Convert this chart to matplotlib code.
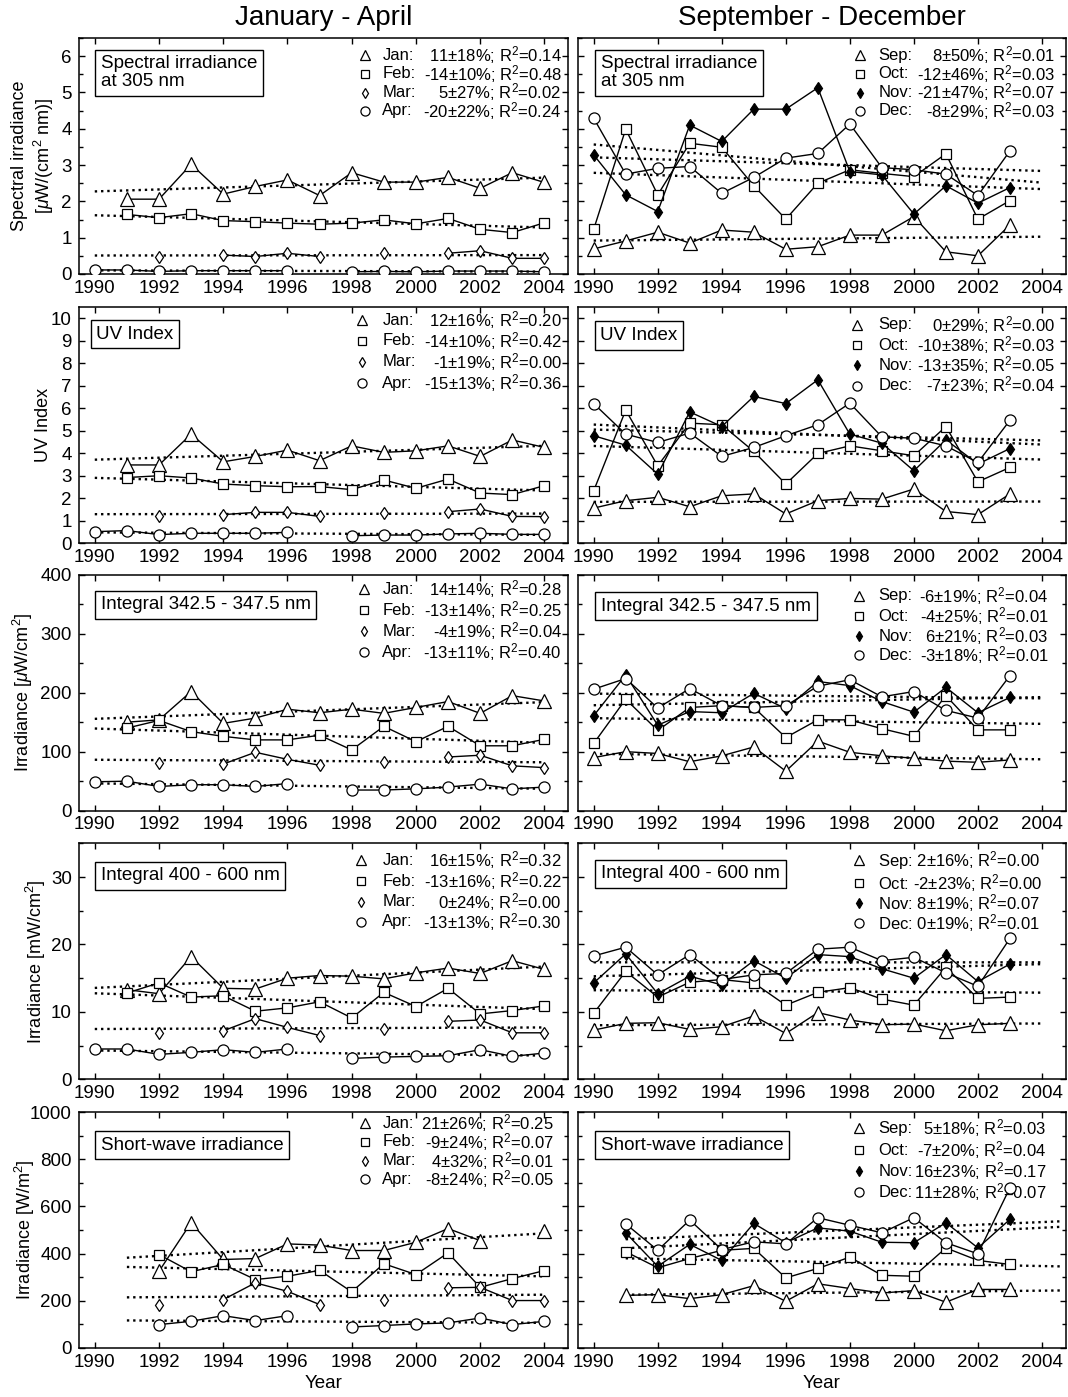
import numpy as np
import matplotlib
matplotlib.use("Agg")
import matplotlib.pyplot as plt
from matplotlib.ticker import MultipleLocator

nan = np.nan
years = np.arange(1990, 2005)

# ---- Spectral irradiance at 305 nm [uW/(cm2 nm)] ----
spec_jan = [nan, 2.06, 2.06, 3.02, 2.20, 2.41, 2.59, 2.16, 2.79, 2.53, 2.53, 2.66, 2.36, 2.79, 2.52]
spec_feb = [nan, 1.64, 1.55, 1.66, 1.47, 1.44, 1.40, 1.37, 1.40, 1.49, 1.38, 1.53, 1.23, 1.14, 1.41]
spec_mar = [nan, nan, 0.46, nan, 0.52, 0.48, 0.57, 0.48, nan, 0.57, nan, 0.57, 0.64, 0.43, 0.43]
spec_apr = [0.11, 0.11, 0.07, 0.09, 0.09, 0.09, 0.09, nan, 0.06, 0.07, 0.06, 0.08, 0.08, 0.08, 0.06]
spec_sep = [0.69, 0.91, 1.15, 0.85, 1.21, 1.15, 0.68, 0.75, 1.07, 1.07, 1.58, 0.61, 0.50, 1.35, nan]
spec_oct = [1.23, 3.99, 2.18, 3.60, 3.49, 2.43, 1.51, 2.50, 2.87, 2.77, 2.68, 3.31, 1.51, 2.02, nan]
spec_nov = [3.28, 2.18, 1.72, 4.10, 3.65, 4.54, 4.54, 5.13, 2.82, 2.73, 1.65, 2.43, 1.95, 2.38, nan]
spec_dec = [4.29, 2.75, 2.91, 2.96, 2.22, 2.66, 3.19, 3.32, 4.13, 2.93, 2.87, 2.75, 2.16, 3.39, nan]

# ---- UV Index ----
uv_jan = [nan, 3.48, 3.48, 4.85, 3.62, 3.86, 4.14, 3.67, 4.33, 4.04, 4.11, 4.33, 3.86, 4.59, 4.26]
uv_feb = [nan, 2.92, 3.00, 2.90, 2.63, 2.56, 2.51, 2.52, 2.38, 2.81, 2.44, 2.85, 2.23, 2.16, 2.56]
uv_mar = [nan, nan, 1.22, nan, 1.27, 1.37, 1.37, 1.19, nan, 1.34, nan, 1.40, 1.52, 1.19, 1.18]
uv_apr = [0.51, 0.56, 0.38, 0.44, 0.44, 0.44, 0.48, nan, 0.33, 0.36, 0.36, 0.41, 0.44, 0.39, 0.39]
uv_sep = [1.56, 1.89, 2.04, 1.62, 2.11, 2.19, 1.30, 1.89, 1.99, 1.96, 2.41, 1.41, 1.27, 2.19, nan]
uv_oct = [2.33, 5.92, 3.44, 5.34, 5.27, 4.08, 2.63, 3.99, 4.33, 4.11, 3.89, 5.19, 2.73, 3.37, nan]
uv_nov = [4.78, 4.36, 3.07, 5.84, 5.19, 6.53, 6.21, 7.27, 4.85, 4.45, 3.22, 4.60, 3.52, 4.21, nan]
uv_dec = [6.21, 4.85, 4.48, 4.90, 3.86, 4.26, 4.78, 5.27, 6.23, 4.73, 4.67, 4.33, 3.59, 5.47, nan]

# ---- Integral 342.5 - 347.5 nm [uW/cm2] ----
int_jan = [nan, 150, 154, 202, 148, 157, 172, 166, 172, 165, 175, 185, 165, 195, 186]
int_feb = [nan, 140, 153, 134, 126, 120, 120, 128, 103, 143, 117, 143, 110, 110, 121]
int_mar = [nan, nan, 80, nan, 79, 99, 87, 77, nan, 82, nan, 91, 94, 76, 73]
int_apr = [49, 50, 41, 44, 44, 41, 46, nan, 35, 35, 37, 40, 45, 37, 40]
int_sep = [90, 100, 97, 83, 93, 108, 67, 118, 99, 93, 89, 84, 82, 86, nan]
int_oct = [114, 189, 136, 175, 178, 175, 124, 154, 154, 139, 126, 195, 137, 137, nan]
int_nov = [161, 230, 145, 168, 166, 199, 173, 219, 212, 185, 167, 209, 166, 192, nan]
int_dec = [206, 224, 174, 207, 178, 175, 178, 211, 222, 193, 202, 170, 157, 229, nan]

# ---- Integral 400 - 600 nm [mW/cm2] ----
vis_jan = [nan, 13.3, 12.7, 18.2, 13.5, 13.4, 15.0, 15.4, 15.3, 14.9, 15.8, 16.5, 15.7, 17.6, 16.3]
vis_feb = [nan, 12.8, 14.3, 12.2, 12.4, 10.1, 10.6, 11.5, 9.1, 12.9, 10.8, 13.5, 9.7, 10.2, 10.9]
vis_mar = [nan, nan, 6.9, nan, 7.2, 9.0, 7.7, 6.5, nan, 7.5, nan, 8.6, 8.8, 6.9, 6.9]
vis_apr = [4.5, 4.5, 3.7, 4.0, 4.4, 4.0, 4.5, nan, 3.1, 3.3, 3.4, 3.5, 4.4, 3.4, 3.9]
vis_sep = [7.3, 8.3, 8.4, 7.4, 7.8, 9.4, 6.8, 9.9, 8.8, 8.1, 8.2, 7.2, 8.1, 8.3, nan]
vis_oct = [9.8, 16.0, 12.2, 14.4, 14.8, 14.3, 11.0, 12.9, 13.6, 11.9, 11.0, 16.6, 12.0, 12.2, nan]
vis_nov = [14.3, 18.6, 12.7, 15.3, 14.0, 17.6, 15.0, 18.5, 18.2, 16.4, 15.0, 18.5, 14.5, 17.1, nan]
vis_dec = [18.3, 19.6, 15.5, 18.5, 14.8, 15.5, 15.7, 19.3, 19.6, 17.6, 18.1, 15.8, 13.8, 20.9, nan]

# ---- Short-wave irradiance [W/m2] ----
sw_jan = [nan, nan, 325, 531, 375, 379, 441, 436, 413, 413, 448, 506, 455, nan, 495]
sw_feb = [nan, nan, 396, 323, 354, 290, 304, 329, 238, 357, 311, 403, 257, 294, 328]
sw_mar = [nan, nan, 184, nan, 205, 276, 240, 184, nan, 205, nan, 255, 257, 201, 201]
sw_apr = [nan, nan, 99, 113, 137, 116, 137, nan, 89, 95, 102, 106, 127, 99, 113]
sw_sep = [nan, 223, 226, 209, 226, 264, 198, 272, 252, 233, 243, 194, 248, 248, nan]
sw_oct = [nan, 408, 340, 379, 414, 422, 297, 337, 385, 308, 304, 424, 371, 354, nan]
sw_nov = [nan, 488, 346, 439, 371, 528, 446, 509, 495, 448, 446, 531, 424, 545, nan]
sw_dec = [nan, 526, 414, 542, 417, 450, 441, 552, 520, 488, 552, 446, 399, 679, nan]

# legend texts: trend per decade and R^2
left_months = ["Jan:", "Feb:", "Mar:", "Apr:"]
right_months = ["Sep:", "Oct:", "Nov:", "Dec:"]

spec_l_trend = ["11\u00b118", "-14\u00b110", "5\u00b127", "-20\u00b122"]
spec_l_r2 = ["0.14", "0.48", "0.02", "0.24"]
spec_r_trend = ["8\u00b150", "-12\u00b146", "-21\u00b147", "-8\u00b129"]
spec_r_r2 = ["0.01", "0.03", "0.07", "0.03"]
uv_l_trend = ["12\u00b116", "-14\u00b110", "-1\u00b119", "-15\u00b113"]
uv_l_r2 = ["0.20", "0.42", "0.00", "0.36"]
uv_r_trend = ["0\u00b129", "-10\u00b138", "-13\u00b135", "-7\u00b123"]
uv_r_r2 = ["0.00", "0.03", "0.05", "0.04"]
int_l_trend = ["14\u00b114", "-13\u00b114", "-4\u00b119", "-13\u00b111"]
int_l_r2 = ["0.28", "0.25", "0.04", "0.40"]
int_r_trend = ["-6\u00b119", "-4\u00b125", "6\u00b121", "-3\u00b118"]
int_r_r2 = ["0.04", "0.01", "0.03", "0.01"]
vis_l_trend = ["16\u00b115", "-13\u00b116", "0\u00b124", "-13\u00b113"]
vis_l_r2 = ["0.32", "0.22", "0.00", "0.30"]
vis_r_trend = ["2\u00b116", "-2\u00b123", "8\u00b119", "0\u00b119"]
vis_r_r2 = ["0.00", "0.00", "0.07", "0.01"]
sw_l_trend = ["21\u00b126", "-9\u00b124", "4\u00b132", "-8\u00b124"]
sw_l_r2 = ["0.25", "0.07", "0.01", "0.05"]
sw_r_trend = ["5\u00b118", "-7\u00b120", "16\u00b123", "11\u00b128"]
sw_r_r2 = ["0.03", "0.04", "0.17", "0.07"]

plt.rcParams["font.family"] = ["Liberation Sans", "DejaVu Sans"]
plt.rcParams["mathtext.fontset"] = "custom"
plt.rcParams["mathtext.rm"] = "Liberation Sans"
plt.rcParams["mathtext.it"] = "Liberation Sans:italic"
plt.rcParams["mathtext.bf"] = "Liberation Sans:bold"

fig = plt.figure(figsize=(10.68, 13.97), dpi=100)

row_bottoms = [0.8039, 0.6112, 0.4197, 0.2274, 0.0351]
row_h = 0.1689
col_x = [0.0737, 0.5409]
col_w = [0.4586, 0.4572]

rows = [
    dict(ylim=(0, 6.5), major=1, minor=0.5,
         ylabel="Spectral irradiance\n[$\\mu$W/(cm$^2$ nm)]", ylab_x=-0.047,
         box="Spectral irradiance\nat 305 nm",
         left=[spec_jan, spec_feb, spec_mar, spec_apr],
         right=[spec_sep, spec_oct, spec_nov, spec_dec],
         lt=(spec_l_trend, spec_l_r2), rt=(spec_r_trend, spec_r_r2)),
    dict(ylim=(0, 10.5), major=1, minor=None,
         ylabel="UV Index", ylab_x=-0.055, box="UV Index",
         left=[uv_jan, uv_feb, uv_mar, uv_apr],
         right=[uv_sep, uv_oct, uv_nov, uv_dec],
         lt=(uv_l_trend, uv_l_r2), rt=(uv_r_trend, uv_r_r2)),
    dict(ylim=(0, 400), major=100, minor=50,
         ylabel="Irradiance [$\\mu$W/cm$^2$]", ylab_x=-0.090,
         box="Integral 342.5 - 347.5 nm",
         left=[int_jan, int_feb, int_mar, int_apr],
         right=[int_sep, int_oct, int_nov, int_dec],
         lt=(int_l_trend, int_l_r2), rt=(int_r_trend, int_r_r2)),
    dict(ylim=(0, 35), major=10, minor=5,
         ylabel="Irradiance [mW/cm$^2$]", ylab_x=-0.062,
         box="Integral 400 - 600 nm",
         left=[vis_jan, vis_feb, vis_mar, vis_apr],
         right=[vis_sep, vis_oct, vis_nov, vis_dec],
         lt=(vis_l_trend, vis_l_r2), rt=(vis_r_trend, vis_r_r2)),
    dict(ylim=(0, 1000), major=200, minor=100,
         ylabel="Irradiance [W/m$^2$]", ylab_x=-0.086,
         box="Short-wave irradiance",
         left=[sw_jan, sw_feb, sw_mar, sw_apr],
         right=[sw_sep, sw_oct, sw_nov, sw_dec],
         lt=(sw_l_trend, sw_l_r2), rt=(sw_r_trend, sw_r_r2)),
]

# trend line x-range per [row][col]
trend_x = [[(1990, 2004), (1990, 2004)]] * 4 + [[(1991, 2004), (1991, 2004.6)]]

# legend layout per [row][col]: marker x, label x, right x, row ys, alignment
legend_pos = [
    [(0.584, 0.620, 0.986, [0.926, 0.848, 0.769, 0.691], "right"),
     (0.578, 0.616, 0.978, [0.926, 0.848, 0.769, 0.691], "right")],
    [(0.578, 0.620, 0.986, [0.945, 0.857, 0.768, 0.678], "right"),
     (0.572, 0.616, 0.978, [0.926, 0.839, 0.753, 0.668], "right")],
    [(0.582, 0.620, 0.986, [0.939, 0.850, 0.761, 0.672], "right"),
     (0.576, 0.616, 0.964, [0.910, 0.825, 0.740, 0.658], "right")],
    [(0.576, 0.620, 0.986, [0.929, 0.839, 0.753, 0.668], "right"),
     (0.576, 0.616, 0.964, [0.929, 0.833, 0.746, 0.661], "left")],
    [(0.584, 0.620, 0.970, [0.952, 0.873, 0.794, 0.715], "right"),
     (0.576, 0.616, 0.960, [0.932, 0.839, 0.750, 0.661], "right")],
]

# title box position per [row][col]
box_pos = [
    [(0.045, 0.853), (0.048, 0.853)],
    [(0.036, 0.885), (0.046, 0.880)],
    [(0.045, 0.873), (0.048, 0.867)],
    [(0.045, 0.862), (0.048, 0.871)],
    [(0.045, 0.860), (0.048, 0.859)],
]

markers = ["^", "s", "d", "o"]
msizes = [9.5, 7.5, 6.4, 8.0]

for r, cfg in enumerate(rows):
    for c in range(2):
        ax = fig.add_axes([col_x[c], row_bottoms[r], col_w[c], row_h])
        series = cfg["left"] if c == 0 else cfg["right"]
        months = left_months if c == 0 else right_months
        trends, r2s = cfg["lt"] if c == 0 else cfg["rt"]
        tx = np.array(trend_x[r][c])

        # dotted linear trends
        for vals in series:
            y = np.array(vals, dtype=float)
            ok = ~np.isnan(y)
            p = np.polyfit(years[ok], y[ok], 1)
            ax.plot(tx, np.polyval(p, tx), color="black", ls=":", lw=1.7, zorder=1)

        for i, vals in enumerate(series):
            y = np.array(vals, dtype=float)
            face = "black" if (c == 1 and i == 2) else "white"
            ax.plot(years, y, color="black", lw=1.0, marker=markers[i],
                    ms=msizes[i], mfc=face, mec="black", mew=0.9, zorder=3)

        # legend
        mx, lx, rx, ys, align = legend_pos[r][c]
        for i in range(4):
            face = "black" if (c == 1 and i == 2) else "white"
            ax.plot([mx], [ys[i]], transform=ax.transAxes, ls="none",
                    marker=markers[i], ms=msizes[i] * 0.82, mfc=face,
                    mec="black", mew=0.9, clip_on=False, zorder=3)
            value = f"{trends[i]}%; R$^2$={r2s[i]}"
            if align == "right":
                ax.text(lx, ys[i], months[i], transform=ax.transAxes,
                        ha="left", va="center", fontsize=12, zorder=2)
                ax.text(rx, ys[i], value, transform=ax.transAxes,
                        ha="right", va="center", fontsize=12, zorder=2)
            else:
                ax.text(lx, ys[i], months[i] + " " + value, transform=ax.transAxes,
                        ha="left", va="center", fontsize=12, zorder=2)

        bx, by = box_pos[r][c]
        ax.text(bx, by, cfg["box"], transform=ax.transAxes, ha="left", va="center",
                fontsize=13.5, linespacing=1.05, zorder=2,
                bbox=dict(boxstyle="square,pad=0.3", fc="white", ec="black", lw=1.0))

        ax.set_xlim(1989.5, 2004.75)
        ax.set_ylim(*cfg["ylim"])
        ax.xaxis.set_major_locator(MultipleLocator(2))
        ax.yaxis.set_major_locator(MultipleLocator(cfg["major"]))
        if cfg["minor"]:
            ax.yaxis.set_minor_locator(MultipleLocator(cfg["minor"]))
        ax.tick_params(which="both", direction="in", top=True, right=True,
                       width=1.0, labelsize=13.5)
        ax.tick_params(which="major", length=4.5)
        ax.tick_params(which="minor", length=3.0)
        ax.tick_params(axis="x", pad=4)
        ax.tick_params(axis="y", pad=5)
        for s in ax.spines.values():
            s.set_linewidth(1.1)

        if c == 0:
            ax.set_ylabel(cfg["ylabel"], fontsize=13)
            ax.yaxis.set_label_coords(cfg["ylab_x"], 0.5)
        else:
            ax.tick_params(labelleft=False)
        if r == 4:
            ax.set_xlabel("Year", fontsize=13.5, labelpad=3)

fig.text(0.303, 0.987, "January - April", ha="center", va="center", fontsize=20)
fig.text(0.770, 0.987, "September - December", ha="center", va="center", fontsize=20)

fig.savefig("out.png", dpi=100)
